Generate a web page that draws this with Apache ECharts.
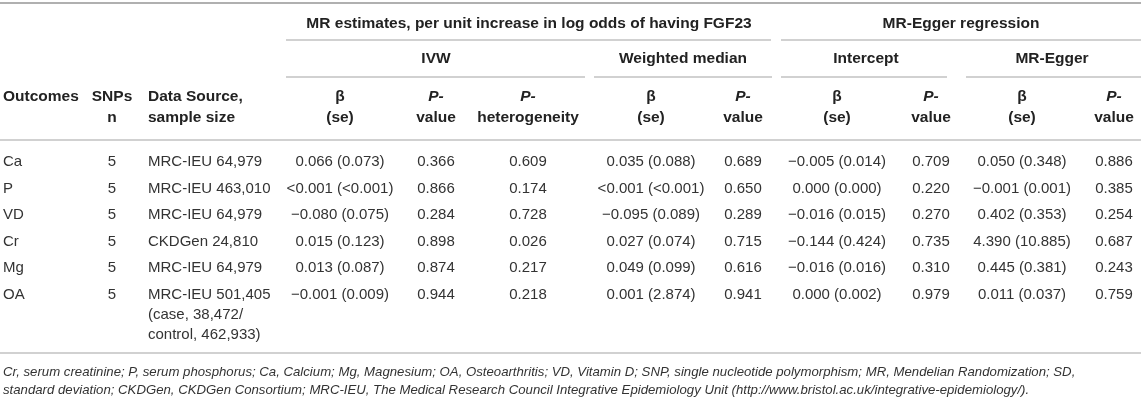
<!DOCTYPE html>
<html>
<head>
<meta charset="utf-8">
<script src="https://cdn.jsdelivr.net/npm/echarts@6/dist/echarts.min.js"></script>
<style>
    html, body { margin: 0; padding: 0; background: #fff; }
    #main { width: 1143px; height: 405px; }
</style>
</head>
<body>
<div id="main"></div>
<script>
// 表格数据（每列一个数组）
const outcomes = ['Ca', 'P', 'VD', 'Cr', 'Mg', 'OA'];
const snps = [5, 5, 5, 5, 5, 5];
const dataSource = ['MRC-IEU 64,979', 'MRC-IEU 463,010', 'MRC-IEU 64,979', 'CKDGen 24,810', 'MRC-IEU 64,979',
    'MRC-IEU 501,405\n(case, 38,472/\ncontrol, 462,933)'];
const ivwBeta = ['0.066 (0.073)', '<0.001 (<0.001)', '\u22120.080 (0.075)', '0.015 (0.123)', '0.013 (0.087)', '\u22120.001 (0.009)'];
const ivwP = ['0.366', '0.866', '0.284', '0.898', '0.874', '0.944'];
const ivwHet = ['0.609', '0.174', '0.728', '0.026', '0.217', '0.218'];
const wmBeta = ['0.035 (0.088)', '<0.001 (<0.001)', '\u22120.095 (0.089)', '0.027 (0.074)', '0.049 (0.099)', '0.001 (2.874)'];
const wmP = ['0.689', '0.650', '0.289', '0.715', '0.616', '0.941'];
const intBeta = ['\u22120.005 (0.014)', '0.000 (0.000)', '\u22120.016 (0.015)', '\u22120.144 (0.424)', '\u22120.016 (0.016)', '0.000 (0.002)'];
const intP = ['0.709', '0.220', '0.270', '0.735', '0.310', '0.979'];
const eggBeta = ['0.050 (0.348)', '\u22120.001 (0.001)', '0.402 (0.353)', '4.390 (10.885)', '0.445 (0.381)', '0.011 (0.037)'];
const eggP = ['0.886', '0.385', '0.254', '0.687', '0.243', '0.759'];

// 表头文字
const topHeaders = ['MR estimates, per unit increase in log odds of having FGF23', 'MR-Egger regression'];
const midHeaders = ['IVW', 'Weighted median', 'Intercept', 'MR-Egger'];
const footnotes = [
    'Cr, serum creatinine; P, serum phosphorus; Ca, Calcium; Mg, Magnesium; OA, Osteoarthritis; VD, Vitamin D; SNP, single nucleotide polymorphism; MR, Mendelian Randomization; SD,',
    'standard deviation; CKDGen, CKDGen Consortium; MRC-IEU, The Medical Research Council Integrative Epidemiology Unit (http://www.bristol.ac.uk/integrative-epidemiology/).'
];

// 列布局
const FONT = '"Liberation Sans", Arial, sans-serif';
const columns = [outcomes, snps, dataSource, ivwBeta, ivwP, ivwHet, wmBeta, wmP, intBeta, intP, eggBeta, eggP];
const colX = [3, 112, 148, 340, 436, 528, 651, 743, 837, 931, 1022, 1114];
const colAlign = ['left', 'center', 'left', 'center', 'center', 'center', 'center', 'center', 'center', 'center', 'center', 'center'];
const colHeaders = ['{b|Outcomes}', '{b|SNPs}\n{b|n}', '{b|Data Source,}\n{b|sample size}',
    '{b|\u03b2}\n{b|(se)}', '{i|P-}\n{b|value}', '{i|P-}\n{b|heterogeneity}',
    '{b|\u03b2}\n{b|(se)}', '{i|P-}\n{b|value}', '{b|\u03b2}\n{b|(se)}', '{i|P-}\n{b|value}',
    '{b|\u03b2}\n{b|(se)}', '{i|P-}\n{b|value}'];

const cells = [];
columns.forEach((col, c) => col.forEach((v, r) => cells.push([colX[c], r, String(v), c])));

const chart = echarts.init(document.getElementById('main'));

const lineStyle = { stroke: '#c2c2c2', lineWidth: 1.5 };
function hline(x1, x2, y, style) {
    return { type: 'line', shape: { x1: x1, y1: y, x2: x2, y2: y }, style: style || lineStyle, silent: true };
}
function headText(text, x, y, align) {
    return {
        type: 'text', x: x, y: y,
        style: {
            text: text, align: align, verticalAlign: 'middle', fill: '#222', lineHeight: 21,
            font: 'bold 15.5px ' + FONT,
            rich: {
                b: { fontWeight: 'bold', fontSize: 15.5, fontFamily: FONT, fill: '#222', lineHeight: 21 },
                i: { fontWeight: 'bold', fontStyle: 'italic', fontSize: 15.5, fontFamily: FONT, fill: '#222', lineHeight: 21 }
            }
        }
    };
}

const graphics = [
    hline(0, 1141, 3, { stroke: '#b0b0b0', lineWidth: 2 }),
    hline(286, 771, 40), hline(781, 1141, 40),
    hline(286, 585, 77), hline(594, 772, 77), hline(781, 947, 77), hline(966, 1141, 77),
    hline(0, 1141, 140), hline(0, 1141, 353),
    headText('{b|' + topHeaders[0] + '}', 529, 24, 'center'),
    headText('{b|' + topHeaders[1] + '}', 961, 24, 'center'),
    headText('{b|' + midHeaders[0] + '}', 436, 59, 'center'),
    headText('{b|' + midHeaders[1] + '}', 683, 59, 'center'),
    headText('{b|' + midHeaders[2] + '}', 866, 59, 'center'),
    headText('{b|' + midHeaders[3] + '}', 1052, 59, 'center')
];
colHeaders.forEach((h, c) => {
    graphics.push(headText(h, colX[c], c === 0 ? 97 : 107.5, colAlign[c]));
});
footnotes.forEach((t, i) => {
    graphics.push({
        type: 'text', x: 3, y: 372 + i * 18,
        style: { text: t, verticalAlign: 'middle', fill: '#333', font: 'italic 13.2px ' + FONT }
    });
});

const option = {
    animation: false,
    grid: { left: 0, right: 0, top: 148.75, height: 159 },
    xAxis: { type: 'value', min: 0, max: 1143, show: false },
    yAxis: { type: 'category', data: outcomes, inverse: true, show: false },
    graphic: graphics,
    series: [{
        type: 'custom',
        clip: false,
        data: cells.map(c => [c[0], c[1]]),
        renderItem: function (params, api) {
            const cell = cells[params.dataIndex];
            const p = api.coord([api.value(0), api.value(1)]);
            return {
                type: 'text', x: p[0], y: p[1] - 10,
                style: {
                    text: cell[2], align: colAlign[cell[3]], verticalAlign: 'top',
                    font: '15px ' + FONT, fill: '#333', lineHeight: 20
                }
            };
        }
    }]
};
chart.setOption(option);
</script>
</body>
</html>
